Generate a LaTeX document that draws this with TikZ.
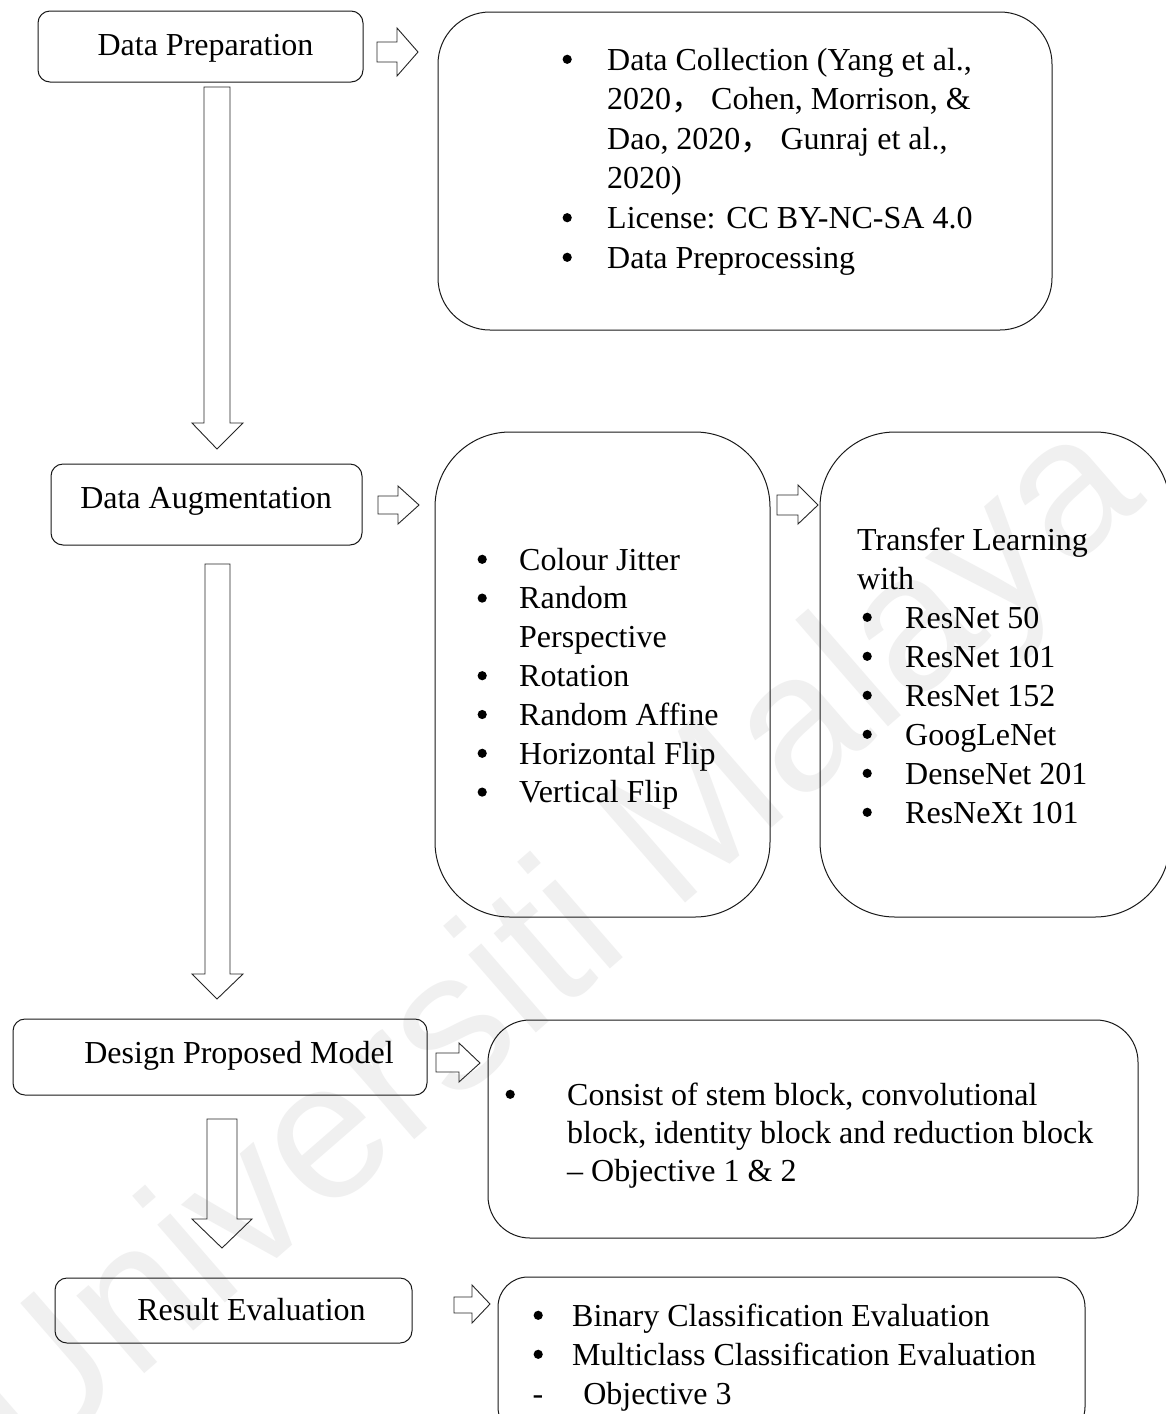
\documentclass[tikz,border=0pt]{standalone}
\usepackage{fontspec}
\setmainfont{Liberation Serif}
\newfontfamily\wmfont{Liberation Sans}
\newfontfamily\cjk{Noto Sans CJK SC}
\newcommand\bul{\tikz[baseline=0pt,x=1pt,y=1pt]{\path (0,0) -- (11.2,0); \fill[black] (5.6,10.7) circle (4.6);}}
\tikzset{
  box/.style={draw=black!90, line width=1pt, rounded corners=#1, inner sep=0pt},
  lbl/.style={font=\fontsize{32}{39.6}\selectfont, inner sep=0pt, text=black},
  barrow/.style={draw=black!85, line width=0.9pt, line join=miter},
}
\begin{document}
\begin{tikzpicture}[x=1pt,y=-1pt]
\useasboundingbox (0,0) rectangle (1166,1414);
\clip (0,0) rectangle (1166,1414);
\fill[white] (0,0) rectangle (1166,1414);

% watermark
\node[rotate=41, text=black!6, font=\wmfont\fontsize{195}{195}\selectfont, inner sep=0pt] (wm) at (555,950) {Universiti Malaya};

% left boxes
\node[box=12pt, minimum width=325pt, minimum height=71pt] (dp) at (200.5,46.5) {};
\node[lbl, anchor=base] (dptxt) at (205.5,55) {Data Preparation};

\node[box=12pt, minimum width=311pt, minimum height=81pt] (da) at (206.5,504.5) {};
\node[lbl, anchor=base] (datxt) at (206,508) {Data Augmentation};

\node[box=12pt, minimum width=414pt, minimum height=76pt] (dpm) at (220,1057) {};
\node[lbl, anchor=base] (dpmtxt) at (239,1063) {Design Proposed Model};

\node[box=12pt, minimum width=357pt, minimum height=65pt] (re) at (233.5,1310.5) {};
\node[lbl, anchor=base] (retxt) at (251.5,1320) {Result Evaluation};

% right boxes
\node[box=52pt, minimum width=614pt, minimum height=318pt] (dpr) at (745,171) {};
\node[lbl, anchor=base west] (dprtxt) at (561.4,70) {%
\begin{tabular}[t]{@{}l@{\hspace{34.4pt}}l@{}}
\bul & Data Collection (Yang et al.,\\
 & 2020{\cjk ，} Cohen, Morrison, \&\\
 & Dao, 2020{\cjk ，} Gunraj et al.,\\
 & 2020)\\
\bul & License: CC BY-NC-SA 4.0\\
\bul & Data Preprocessing
\end{tabular}};

\node[box=75pt, minimum width=335pt, minimum height=485pt] (aug) at (602.5,674.5) {};
\node[lbl, font=\fontsize{32}{38.8}\selectfont, anchor=base west] (augtxt) at (476.4,570) {%
\begin{tabular}[t]{@{}l@{\hspace{31.4pt}}l@{}}
\bul & Colour Jitter\\
\bul & Random\\
 & Perspective\\
\bul & Rotation\\
\bul & Random Affine\\
\bul & Horizontal Flip\\
\bul & Vertical Flip
\end{tabular}};

\node[box=75pt, minimum width=350pt, minimum height=485pt] (tl) at (995,674.5) {};
\node[lbl, font=\fontsize{32}{39}\selectfont, anchor=base west] (tltxt) at (861.4,550) {%
\begin{tabular}[t]{@{}l@{\hspace{32.4pt}}l@{}}
\multicolumn{2}{@{}l@{}}{\hspace{-4.4pt}Transfer Learning}\\
\multicolumn{2}{@{}l@{}}{\hspace{-4.4pt}with}\\
\bul & ResNet 50\\
\bul & ResNet 101\\
\bul & ResNet 152\\
\bul & GoogLeNet\\
\bul & DenseNet 201\\
\bul & ResNeXt 101
\end{tabular}};

\node[box=42pt, minimum width=650pt, minimum height=218pt] (dpm2) at (813,1129) {};
\node[lbl, font=\fontsize{32}{38}\selectfont, anchor=base west] (dpm2txt) at (504.4,1105) {%
\begin{tabular}[t]{@{}l@{\hspace{51.4pt}}l@{}}
\bul & Consist of stem block, convolutional\\
 & block, identity block and reduction block\\
 & \textendash{} Objective 1 \& 2
\end{tabular}};

\node[box=30pt, minimum width=587pt, minimum height=160pt] (re2) at (791.5,1357) {};
\node[lbl, font=\fontsize{32}{39}\selectfont, anchor=base west] (re2txt) at (532.4,1326) {%
\begin{tabular}[t]{@{}l@{\hspace{28.4pt}}l@{}}
\bul & Binary Classification Evaluation\\
\bul & Multiclass Classification Evaluation\\
\multicolumn{2}{@{}l@{}}{-\hspace{40pt}Objective 3}
\end{tabular}};

% down block arrows
\draw[barrow] (204,87) -- (230,87) -- (230,423) -- (243,423) -- (217,449) -- (192,423) -- (204,423) -- cycle;
\draw[barrow] (205,564) -- (230,564) -- (230,974) -- (243,974) -- (217,999) -- (192,974) -- (205,974) -- cycle;
\draw[barrow] (207,1119) -- (237,1119) -- (237,1219) -- (252,1219) -- (222,1248) -- (192,1219) -- (207,1219) -- cycle;

% right block arrows
\draw[barrow] (377,42) -- (397,42) -- (397,28) -- (418,52) -- (397,76) -- (397,62) -- (377,62) -- cycle;
\draw[barrow] (378,496) -- (398,496) -- (398,486) -- (419,505) -- (398,524) -- (398,514) -- (378,514) -- cycle;
\draw[barrow] (777,495) -- (798,495) -- (798,485) -- (818,505) -- (798,524) -- (798,515) -- (777,515) -- cycle;
\draw[barrow] (436,1053) -- (459,1053) -- (459,1043) -- (480,1063) -- (459,1082) -- (459,1072) -- (436,1072) -- cycle;
\draw[barrow] (454,1297) -- (472,1297) -- (472,1285) -- (490,1304) -- (472,1323) -- (472,1313) -- (454,1313) -- cycle;
\end{tikzpicture}
\end{document}
